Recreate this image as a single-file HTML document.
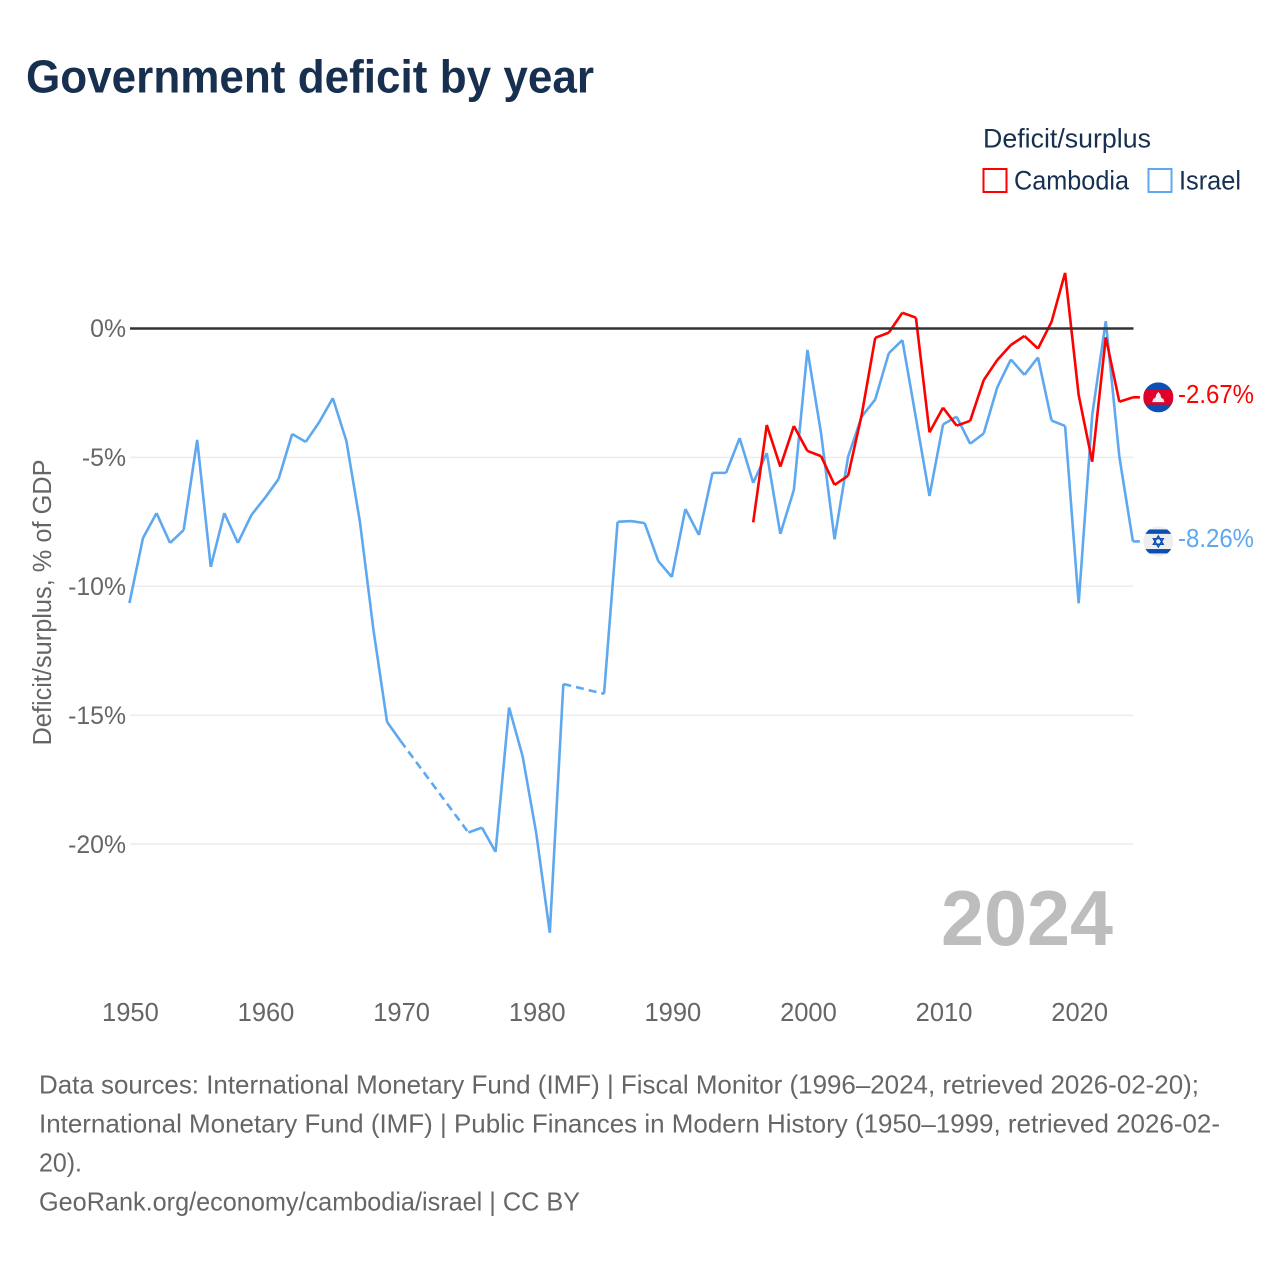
<!DOCTYPE html>
<html lang="en">
<head>
<meta charset="utf-8">
<title>Government deficit by year</title>
<style>
html,body{margin:0;padding:0;background:#fff;width:1280px;height:1280px;overflow:hidden}
svg{display:block}
text{font-family:"Liberation Sans",sans-serif}
.tick{font-size:25.5px;fill:#666}
.ytick{font-size:24.8px;fill:#666}
.foot{font-size:26px;fill:#666}
.leg{font-size:27px;fill:#17304f}
</style>
</head>
<body>
<svg id="chart" width="1280" height="1280" viewBox="0 0 1280 1280" xmlns="http://www.w3.org/2000/svg">
  <text x="26" y="92.5" font-size="46" font-weight="700" fill="#17304f" textLength="568" lengthAdjust="spacingAndGlyphs">Government deficit by year</text>

  <g>
    <text class="leg" x="983" y="147.5" textLength="168" lengthAdjust="spacingAndGlyphs">Deficit/surplus</text>
    <g>
      <rect x="983.5" y="169" width="23" height="23" fill="#fff" stroke="#ff0000" stroke-width="2"/>
      <text class="leg" x="1014" y="189.5" textLength="115" lengthAdjust="spacingAndGlyphs">Cambodia</text>
    </g>
    <g>
      <rect x="1148.5" y="169" width="23" height="23" fill="#fff" stroke="#5ea8ef" stroke-width="2"/>
      <text class="leg" x="1179" y="189.5" textLength="62" lengthAdjust="spacingAndGlyphs">Israel</text>
    </g>
  </g>

  <text transform="translate(51,602.5) rotate(-90)" text-anchor="middle" font-size="25.5" fill="#666" textLength="286" lengthAdjust="spacingAndGlyphs">Deficit/surplus, % of GDP</text>

  <g id="grid"></g>
  <g id="ylabels"></g>
  <g id="xlabels"></g>

  <text x="941" y="945" font-size="78" font-weight="700" fill="#bdbdbd" textLength="172" lengthAdjust="spacingAndGlyphs">2024</text>

  <g id="series"></g>
  <g id="zero"></g>

  <g id="flag-cambodia">
    <clipPath id="clip-kh"><circle cx="0" cy="0" r="15"/></clipPath>
    <g clip-path="url(#clip-kh)">
      <rect x="-15" y="-15" width="30" height="30" fill="#0b4fb3"/>
      <rect x="-15" y="-7.4" width="30" height="14.8" fill="#e0002a"/>
      <path d="M-6.2 4.8 L-5 1.5 L-3 0.5 L-2 -3 L0 -5.5 L2 -3 L3 0.5 L5 1.5 L6.2 4.8 Z" fill="#eeeeee"/>
    </g>
  </g>
  <g id="flag-israel">
    <clipPath id="clip-il"><circle cx="0" cy="0" r="15"/></clipPath>
    <g clip-path="url(#clip-il)">
      <rect x="-15" y="-15" width="30" height="30" fill="#eeeeee"/>
      <rect x="-15" y="-12" width="30" height="4.4" fill="#0b4fb3"/>
      <rect x="-15" y="7.6" width="30" height="4.4" fill="#0b4fb3"/>
      <path d="M0 -5.6 L4.9 2.8 L-4.9 2.8 Z M0 5.6 L4.9 -2.8 L-4.9 -2.8 Z" fill="none" stroke="#0b4fb3" stroke-width="1.4"/>
    </g>
  </g>
  <text id="value-cambodia" x="1178" font-size="25.5" fill="#ff0000" textLength="76" lengthAdjust="spacingAndGlyphs">-2.67%</text>
  <text id="value-israel" x="1178" font-size="25.5" fill="#5ea8ef" textLength="76" lengthAdjust="spacingAndGlyphs">-8.26%</text>

  <g>
    <text class="foot" x="39" y="1093.5" textLength="1160" lengthAdjust="spacingAndGlyphs">Data sources: International Monetary Fund (IMF) | Fiscal Monitor (1996–2024, retrieved 2026-02-20);</text>
    <text class="foot" x="39" y="1132.5" textLength="1181" lengthAdjust="spacingAndGlyphs">International Monetary Fund (IMF) | Public Finances in Modern History (1950–1999, retrieved 2026-02-</text>
    <text class="foot" x="39" y="1171.5" textLength="43" lengthAdjust="spacingAndGlyphs">20).</text>
    <text class="foot" x="39" y="1210.5" textLength="541" lengthAdjust="spacingAndGlyphs">GeoRank.org/economy/cambodia/israel | CC BY</text>
  </g>
</svg>

<script>
var yTicks = [-5, -10, -15, -20];
var xTicks = [1950, 1960, 1970, 1980, 1990, 2000, 2010, 2020];
var firstYear = 1950;
var lastYear = 2024;
var israelValues = [
  -10.65, -8.13, -7.16, -8.32, -7.82, -4.32, -9.25, -7.16, -8.32, -7.23,
  -6.57, -5.84, -4.09, -4.40, -3.63, -2.70, -4.36, -7.50, -11.70, -15.26,
  -16.00, null, null, null, null, -19.55, -19.36, -20.30, -14.70, -16.60,
  -19.57, -23.44, -13.79, null, null, -14.17, -7.50, -7.47, -7.55, -9.02,
  -9.64, -7.00, -8.01, -5.60, -5.60, -4.25, -5.99, -4.83, -7.97, -6.26,
  -0.83, -4.05, -8.18, -4.97, -3.42, -2.75, -0.96, -0.45, -3.47, -6.50,
  -3.72, -3.42, -4.47, -4.07, -2.28, -1.20, -1.80, -1.12, -3.57, -3.78,
  -10.66, -3.36, 0.29, -4.97, -8.26
];
var cambodiaFirstYear = 1996;
var cambodiaValues = [
  -7.52, -3.74, -5.36, -3.78, -4.75, -4.95, -6.07, -5.71, -3.35, -0.36,
  -0.16, 0.61, 0.42, -4.03, -3.07, -3.77, -3.58, -2.00, -1.22, -0.64,
  -0.29, -0.78, 0.26, 2.16, -2.58, -5.17, -0.34, -2.84, -2.67
];

var NS = 'http://www.w3.org/2000/svg';
function xScale(year) { return 129.4 + (year - firstYear) * (1132.9 - 129.4) / (lastYear - firstYear); }
function yScale(v) { return 328.5 - v * 25.78; }
function mk(tag, attrs, parent) {
  var el = document.createElementNS(NS, tag);
  for (var k in attrs) el.setAttribute(k, attrs[k]);
  parent.appendChild(el);
  return el;
}

var gridG = document.getElementById('grid');
var ylabG = document.getElementById('ylabels');
var xlabG = document.getElementById('xlabels');
var seriesG = document.getElementById('series');
var zeroG = document.getElementById('zero');

yTicks.forEach(function (t) {
  var line = mk('line', {x1: 130, x2: 1133.5, y1: yScale(t), y2: yScale(t), stroke: '#ececec', 'stroke-width': 1.5}, gridG);
  
  
});

yTicks.concat([0]).forEach(function (t) {
  var label = mk('text', {x: 126, y: yScale(t) + 8.7, 'text-anchor': 'end', class: 'ytick'}, ylabG);
  
  
  label.textContent = t + '%';
});

xTicks.forEach(function (t) {
  var label = mk('text', {x: xScale(t) + 1, y: 1021, 'text-anchor': 'middle', class: 'tick'}, xlabG);
  
  
  label.textContent = t;
});

function drawSeries(values, startYear, color, name) {
  var solid = '';
  var dashed = '';
  var prev = null;
  values.forEach(function (v, i) {
    if (v === null) return;
    var pt = {i: i, x: xScale(startYear + i), y: yScale(v)};
    if (prev) {
      var seg = 'M' + prev.x.toFixed(2) + ' ' + prev.y.toFixed(2) + 'L' + pt.x.toFixed(2) + ' ' + pt.y.toFixed(2);
      if (pt.i - prev.i === 1) solid += seg; else dashed += seg;
    }
    prev = pt;
  });
  var tail = 'M' + prev.x.toFixed(2) + ' ' + prev.y.toFixed(2) + 'L' + (prev.x + 7).toFixed(2) + ' ' + prev.y.toFixed(2);
  var a = mk('path', {d: solid + tail, fill: 'none', stroke: color, 'stroke-width': 2.6, 'stroke-linejoin': 'miter'}, seriesG);
  
  
  if (dashed) {
    var b = mk('path', {d: dashed, fill: 'none', stroke: color, 'stroke-width': 2.6, 'stroke-dasharray': '8 5'}, seriesG);
    
    
  }
  return prev;
}

var israelEnd = drawSeries(israelValues, firstYear, '#5ea8ef', 'israel');
var cambodiaEnd = drawSeries(cambodiaValues, cambodiaFirstYear, '#ff0000', 'cambodia');

var zeroLine = mk('line', {x1: 130, x2: 1133.5, y1: yScale(0), y2: yScale(0), stroke: '#333333', 'stroke-width': 2.5}, zeroG);



document.getElementById('flag-cambodia').setAttribute('transform', 'translate(1158.3,' + cambodiaEnd.y + ')');
document.getElementById('flag-israel').setAttribute('transform', 'translate(1158.3,' + israelEnd.y + ')');
document.getElementById('value-cambodia').setAttribute('y', cambodiaEnd.y + 5.5);
document.getElementById('value-israel').setAttribute('y', israelEnd.y + 5.5);
</script>
</body>
</html>
